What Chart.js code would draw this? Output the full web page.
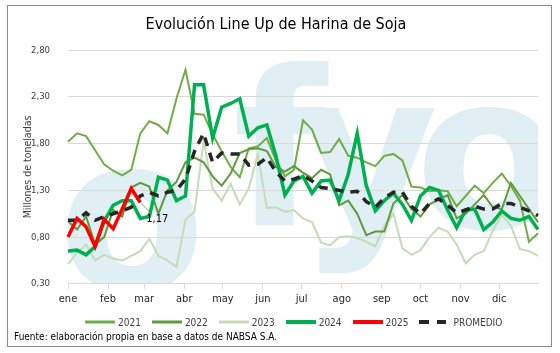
<!DOCTYPE html>
<html>
<head>
<meta charset="utf-8">
<script src="https://cdn.jsdelivr.net/npm/chart.js@4"></script>
<style>
  html, body { margin: 0; padding: 0; background: #fff; }
  #wrap { position: relative; width: 560px; height: 353px; }
  #frame { position: absolute; left: 7px; top: 5px; width: 543px; height: 340px; border: 1px solid #8c8c8c; }
  #fuente { position: absolute; left: 14px; top: 331px; font: 10px "DejaVu Sans Condensed", sans-serif; color: #000; }
  #leyenda { position: absolute; left: 85px; top: 315px; height: 14px; display: flex; align-items: center; gap: 11px;
    font: 10px "DejaVu Sans Condensed", sans-serif; color: #404040; }
  #leyenda .item { display: flex; align-items: center; gap: 3px; }
  #leyenda svg { display: block; }
</style>
</head>
<body>
<div id="wrap">
  <div id="frame"></div>
  <canvas id="myChart" width="560" height="353"></canvas>
  <div id="leyenda"></div>
  <div id="fuente">Fuente: elaboración propia en base a datos de NABSA S.A.</div>
</div>
<script>
// semanas del año (eje x)
const semanas = [1, 2, 3, 4, 5, 6, 7, 8, 9, 10, 11, 12, 13, 14, 15, 16, 17, 18, 19, 20,
  21, 22, 23, 24, 25, 26, 27, 28, 29, 30, 31, 32, 33, 34, 35, 36, 37, 38, 39, 40,
  41, 42, 43, 44, 45, 46, 47, 48, 49, 50, 51, 52, 53];

// meses: posición (en semanas) del inicio de cada mes
const meses = ["ene", "feb", "mar", "abr", "may", "jun", "jul", "ago", "sep", "oct", "nov", "dic"];
const inicioMes = [0, 4.43, 8.43, 12.86, 17.14, 21.57, 25.86, 30.29, 34.71, 39, 43.43, 47.71];

// millones de toneladas
const y2021 = [1.82, 1.91, 1.88, 1.73, 1.58, 1.51, 1.46, 1.52, 1.91, 2.04,
  2.00, 1.91, 2.28, 2.59, 2.12, 2.11, 1.90, 1.72, 1.55, 1.44,
  1.75, 1.77, 1.86, 1.62, 1.45, 1.52, 2.05, 1.95, 1.70, 1.71,
  1.85, 1.67, 1.65, 1.60, 1.56, 1.67, 1.69, 1.62, 1.34, 1.33,
  1.29, 1.30, 1.29, 1.13, 1.24, 1.35, 1.27, 1.38, 1.48, 1.35,
  1.19, 0.75, 0.84];
const y2022 = [0.97, 0.88, 1.02, 0.72, 0.80, 1.09, 1.02, 1.33, 1.38, 1.34,
  1.05, 1.30, 1.39, 1.60, 1.65, 1.60, 1.45, 1.35, 1.48, 1.70,
  1.74, 1.75, 1.72, 1.55, 1.50, 1.56, 1.49, 1.43, 1.52, 1.47,
  1.14, 1.19, 1.05, 0.82, 0.86, 0.86, 1.16, 1.25, 1.10, 1.02,
  1.15, 1.20, 1.25, 1.00, 1.05, 1.15, 1.25, 1.12, 1.10, 1.38,
  1.24, 1.10, 0.96];
const y2023 = [0.51, 0.63, 0.72, 0.55, 0.61, 0.57, 0.55, 0.60, 0.65, 0.78,
  0.60, 0.55, 0.48, 0.99, 1.07, 1.83, 1.32, 1.19, 1.37, 1.15,
  1.32, 1.69, 1.11, 1.12, 1.07, 1.09, 1.00, 0.96, 0.74, 0.71,
  0.80, 0.81, 0.79, 0.75, 0.70, 0.92, 1.05, 0.68, 0.61, 0.66,
  0.80, 0.90, 0.86, 0.72, 0.52, 0.61, 0.65, 0.87, 1.04, 0.92,
  0.67, 0.65, 0.60];
const y2024 = [0.65, 0.66, 0.61, 0.70, 0.97, 1.14, 1.19, 1.19, 1.00, 1.02,
  1.44, 1.41, 1.19, 1.24, 2.43, 2.43, 1.86, 2.19, 2.23, 2.28,
  1.88, 1.97, 2.00, 1.67, 1.25, 1.40, 1.45, 1.27, 1.40, 1.41,
  1.19, 1.47, 1.91, 1.35, 1.08, 1.19, 1.27, 1.15, 0.98, 1.24,
  1.33, 1.30, 1.09, 0.90, 1.09, 1.10, 0.88, 0.96, 1.08, 1.00,
  0.98, 1.02, 0.88];
const y2025 = [0.80, 1.00, 0.91, 0.70, 0.99, 0.89, 1.10, 1.32, 1.17];
const promedio = [0.98, 0.98, 1.06, 0.98, 1.02, 1.05, 1.08, 1.12, 1.24, 1.28,
  1.24, 1.28, 1.30, 1.42, 1.72, 1.91, 1.60, 1.70, 1.69, 1.69,
  1.57, 1.58, 1.65, 1.50, 1.40, 1.42, 1.46, 1.40, 1.33, 1.32,
  1.30, 1.28, 1.29, 1.18, 1.12, 1.22, 1.28, 1.28, 1.13, 1.05,
  1.16, 1.21, 1.14, 1.06, 1.09, 1.13, 1.10, 1.10, 1.16, 1.16,
  1.12, 1.08, 1.03];

const fuente = '"DejaVu Sans Condensed", sans-serif';
const coma = v => v.toFixed(2).replace(".", ",");

// marca de agua clara detrás de la grilla
const marcaAgua = {
  id: "marcaAgua",
  beforeDraw(chart) {
    const { ctx, chartArea: a } = chart;
    ctx.save();
    ctx.beginPath();
    ctx.rect(a.left, a.top, a.right - a.left, a.bottom - a.top);
    ctx.clip();
    ctx.fillStyle = "#e0eff4";
    ctx.font = 'bold 215px "DejaVu Sans"';
    ctx.textAlign = "left";
    ctx.textBaseline = "alphabetic";
    ctx.fillText("o", 58, 290);
    ctx.fillText("f", 233, 225);
    ctx.fillText("y", 298, 226);
    ctx.fillText("o", 415, 228);
    ctx.restore();
  }
};

// etiqueta del último dato de 2025
const etiqueta = {
  id: "etiqueta",
  afterDatasetsDraw(chart) {
    const idx = chart.data.datasets.findIndex(d => d.label === "2025");
    const meta = chart.getDatasetMeta(idx);
    const pt = meta.data[meta.data.length - 1];
    const ctx = chart.ctx;
    ctx.save();
    ctx.strokeStyle = "#7f7f7f";
    ctx.lineWidth = 0.8;
    ctx.beginPath();
    ctx.moveTo(pt.x + 1, pt.y + 1);
    ctx.lineTo(pt.x + 10, pt.y + 10);
    ctx.stroke();
    ctx.fillStyle = "#000";
    ctx.font = "11px " + fuente;
    ctx.textAlign = "left";
    ctx.textBaseline = "middle";
    ctx.fillText(coma(y2025[y2025.length - 1]), pt.x + 6, pt.y + 17);
    ctx.restore();
  }
};

const serie = (label, data, color, width, order, dash) => ({
  label: label,
  data: data,
  borderColor: color,
  backgroundColor: color,
  borderWidth: width,
  borderDash: dash || [],
  pointRadius: 0,
  tension: 0,
  order: order
});

const datasets = [
  serie("2021", y2021, "#70ad47", 2, 5),
  serie("2022", y2022, "#5e9b3c", 2, 4),
  serie("2023", y2023, "#c5dcb6", 2, 6),
  serie("2024", y2024, "#00b050", 3.5, 3),
  serie("2025", y2025, "#ff0000", 3.5, 1),
  serie("PROMEDIO", promedio, "#262626", 3.5, 2, [9, 7])
];

const ctx = document.getElementById("myChart").getContext("2d");
new Chart(ctx, {
  type: "line",
  data: { labels: semanas, datasets: datasets },
  options: {
    responsive: false,
    animation: false,
    layout: { padding: { left: 14, right: 22, top: 0, bottom: 43 } },
    plugins: {
      title: {
        display: true,
        text: "Evolución Line Up de Harina de Soja",
        color: "#000",
        font: { family: fuente, size: 16, weight: "normal" },
        padding: { top: 15, bottom: 16 }
      },
      legend: { display: false },
      tooltip: { enabled: false }
    },
    scales: {
      x: {
        type: "category",
        offset: false,
        afterBuildTicks: axis => { axis.ticks = inicioMes.map(v => ({ value: v })); },
        ticks: {
          autoSkip: false,
          maxRotation: 0,
          color: "#262626",
          padding: 4,
          font: { family: fuente, size: 11 },
          callback: (value, index) => meses[index]
        },
        grid: { drawOnChartArea: false, drawTicks: true, tickLength: 5, color: "#d9d9d9" },
        border: { color: "#d9d9d9" }
      },
      y: {
        min: 0.3,
        max: 2.8,
        afterFit: scale => { scale.width = 54; },
        ticks: {
          stepSize: 0.5,
          color: "#404040",
          padding: 18,
          font: { family: fuente, size: 9.5 },
          callback: v => coma(v)
        },
        title: {
          display: true,
          text: "Millones de toneladas",
          color: "#404040",
          font: { family: fuente, size: 10.5 },
          padding: { top: 8, bottom: 0 }
        },
        grid: { color: "#d9d9d9", drawTicks: false },
        border: { display: false }
      }
    }
  },
  plugins: [marcaAgua, etiqueta]
});

// leyenda en HTML a partir de las series
const leyenda = document.getElementById("leyenda");
datasets.forEach(d => {
  const item = document.createElement("div");
  item.className = "item";
  const dash = d.borderDash.length ? ' stroke-dasharray="10 8"' : "";
  const w = d.borderDash.length ? 27 : 30;
  const grosor = d.borderWidth > 3 ? 4 : 3;
  item.innerHTML = `<svg width="${w}" height="6"><line x1="0" y1="3" x2="${w}" y2="3" stroke="${d.borderColor}" stroke-width="${grosor}"${dash}/></svg>` +
    `<span${d.borderDash.length ? ' style="margin-left:4px"' : ""}>${d.label}</span>`;
  leyenda.appendChild(item);
});
</script>
</body>
</html>
